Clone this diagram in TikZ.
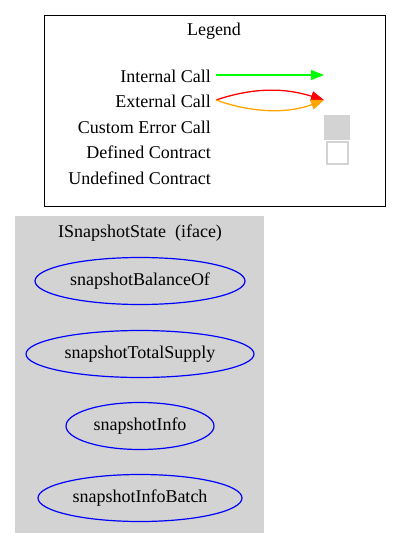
\documentclass[tikz,border=0pt]{standalone}
\usepackage{fontspec}
\setmainfont{Liberation Serif}
\usetikzlibrary{
    arrows.meta,
    positioning,
    shapes.geometric
}
\definecolor{clusterGray}{RGB}{211,211,211}
\definecolor{callGreen}{RGB}{0,255,0}
\definecolor{callOrange}{RGB}{255,165,0}
\tikzset{
  lbl/.style    = {anchor=east, inner sep=0pt, font=\fontsize{18}{20}\selectfont},
  title/.style  = {inner sep=0pt, font=\fontsize{18}{20}\selectfont},
  func/.style   = {draw=blue, line width=1.2pt, ellipse, fill=clusterGray, inner sep=0pt,
                   minimum height=47pt, font=\fontsize{18}{20}\selectfont},
  callarr/.style = {-{Triangle[length=13pt,width=10pt]}, line width=1.3pt}
}

\begin{document}
\begin{tikzpicture}[x=1pt, y=-1pt]
  \useasboundingbox (0,0) rectangle (400,549);

  % legend
  \draw[line width=1pt, black] (44,15) rectangle (385,206);
  \node[title] (legend) at (214,31) {Legend};

  \node[lbl] (lint) at (211,76) {Internal Call};
  \node[lbl] (lext) at (211,101) {External Call};
  \node[lbl] (lerr) at (211,127) {Custom Error Call};
  \node[lbl] (ldef) at (211,152.5) {Defined Contract};
  \node[lbl] (lund) at (211,178) {Undefined Contract};

  \coordinate (intA) at (216,75);
  \coordinate (intB) at (324,75);
  \coordinate (extA) at (216,100);
  \coordinate (extB) at (324,100);

  \draw[callarr, callGreen] (intA) -- (intB);
  \draw[callarr, red] (extA) .. controls (255,87) and (285,88) .. (extB);
  \draw[callarr, callOrange] (extA) .. controls (255,114) and (290,113) .. (extB);

  \node[fill=clusterGray, minimum width=26pt, minimum height=25pt, inner sep=0pt]
    (errbox) at (337,127) {};
  \node[draw=clusterGray, line width=1.3pt, fill=white, minimum width=21pt,
    minimum height=22pt, inner sep=0pt] (defbox) at (337.5,153) {};

  % contract cluster
  \fill[clusterGray] (15,216) rectangle (264,533);
  \node[title] (iface) at (140,233) {ISnapshotState\ \ (iface)};

  \node[func, minimum width=210pt] (balanceOf) at (140,281) {snapshotBalanceOf};
  \node[func, minimum width=228pt] (totalSupply) at (140,354) {snapshotTotalSupply};
  \node[func, minimum width=148pt] (info) at (140,426) {snapshotInfo};
  \node[func, minimum width=204pt] (infoBatch) at (140,498) {snapshotInfoBatch};
\end{tikzpicture}
\end{document}
